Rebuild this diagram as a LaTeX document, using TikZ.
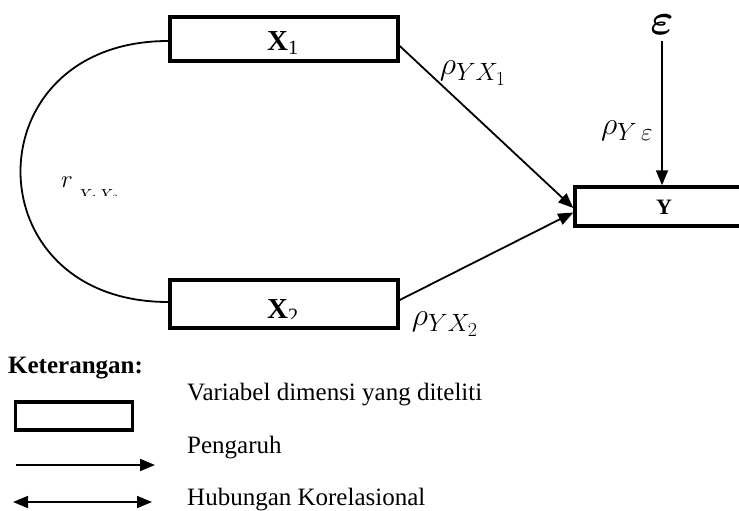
\RequirePackage{fix-cm}
\documentclass[tikz,border=0pt]{standalone}
\usepackage{amsmath}
\usepackage{bm}
\usepackage{fontspec}
\setmainfont{Liberation Serif}
\DeclareMathSizes{32}{32}{25}{20}
\usetikzlibrary{arrows.meta}
\tikzset{
 box/.style={draw, line width=3.5pt, inner sep=0pt},
 conn/.style={line width=1.8pt},
 arr/.style={conn, -{Triangle[length=15pt,width=12pt]}},
 darr/.style={conn, {Triangle[length=15pt,width=12pt]}-{Triangle[length=15pt,width=12pt]}},
 lbl/.style={inner sep=0pt, font=\fontsize{25}{30}\selectfont},
 mlbl/.style={inner sep=0pt, font=\fontsize{32}{36}\selectfont},
 boxlbl/.style={inner sep=0pt, font=\fontsize{29}{32}\selectfont\bfseries},
}
\begin{document}
\begin{tikzpicture}[x=1pt,y=-1pt]
\useasboundingbox (0,0) rectangle (739,511);
\clip (0,0) rectangle (739,511);
% boxes
\node[box, minimum width=228pt, minimum height=44pt] (x1) at (284,39) {};
\node[boxlbl] (x1l) at (283,43) {X\textsubscript{\mdseries 1}};
\node[box, minimum width=228pt, minimum height=48pt] (x2) at (284,304) {};
\begin{scope}
\clip (200,290) rectangle (360,318);
\node[boxlbl] (x2l) at (283,311) {X\textsubscript{\mdseries 2}};
\end{scope}
\node[box, minimum width=178pt, minimum height=39pt] (y) at (664,206.5) {};
\node[boxlbl, font=\fontsize{22}{26}\selectfont\bfseries] (yl) at (664,207) {Y};
% epsilon
\node[inner sep=0pt, anchor=base, font=\fontsize{44}{48}\selectfont] (eps) at (662,35) {$\bm{\varepsilon}$};
% connectors
\coordinate (y1) at ([yshift=-1.5pt]y.west);
\coordinate (y2) at ([yshift=-6pt]y.west);
\draw[arr] ([yshift=-7pt]x1.east) -- (y1);
\draw[arr] ([yshift=4pt]x2.east) -- (y2);
\draw[arr] ([yshift=-6pt]eps.south) -- (eps.south |- y.north);
\draw[conn] ([yshift=-2pt]x1.west) .. controls +(-197,0) and +(-197,0) .. ([yshift=2pt]x2.west);
% labels
\node[mlbl] (l1) at (473,73) {$\rho_{YX_1}$};
\node[mlbl] (l2) at (445,324) {$\rho_{YX_2}$};
\node[mlbl] (l3) at (627,131) {$\rho_{Y\,\varepsilon}$};
\begin{scope}
\clip (40,165) rectangle (140,195);
\node[inner sep=0pt, anchor=base west, font=\fontsize{25}{30}\selectfont] (r) at (61,187) {$r\,\raisebox{-14pt}{$\scriptstyle X_1X_2$}$};
\end{scope}
% legend
\node[lbl, anchor=base west, font=\fontsize{25}{30}\selectfont\bfseries] (ket) at (8,373) {Keterangan:};
\node[box, minimum width=117pt, minimum height=28pt] (lbox) at (74,416) {};
\coordinate (a1) at (16,465);
\coordinate (a2) at (155,465);
\draw[arr] (a1) -- (a2);
\coordinate (b1) at (13,502);
\coordinate (b2) at (152,502);
\draw[darr] (b1) -- (b2);
\node[lbl, anchor=base west] (t1) at (187,400) {Variabel dimensi yang diteliti};
\node[lbl, anchor=base west] (t2) at (187,453) {Pengaruh};
\node[lbl, anchor=base west] (t3) at (187,505) {Hubungan Korelasional};
\end{tikzpicture}
\end{document}
